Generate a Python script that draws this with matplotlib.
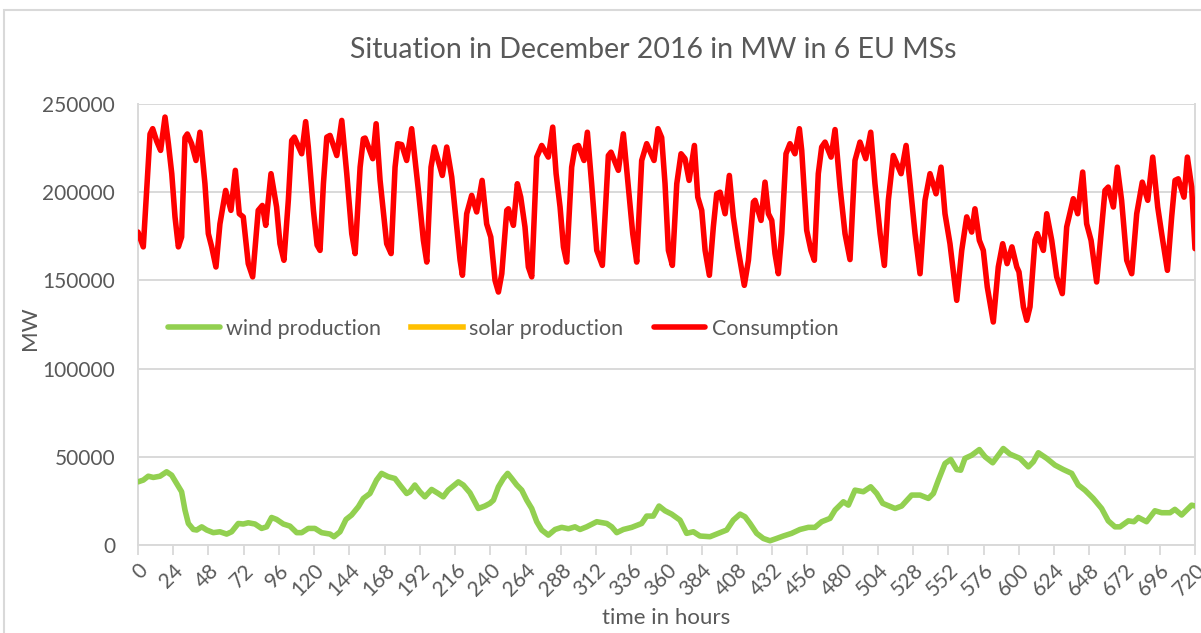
import matplotlib
matplotlib.use("Agg")
import matplotlib.pyplot as plt
from matplotlib.patches import Rectangle

plt.rcParams['font.family'] = ['Lato', 'DejaVu Sans']

title = "Situation in December 2016 in MW in 6 EU MSs"
x_label = "time in hours"
y_label = "MW"
series_names = ["wind production", "solar production", "Consumption"]
x_ticks = list(range(0, 721, 24))
y_ticks = [0, 50000, 100000, 150000, 200000, 250000]

cons_hours = [0, 3.6, 8.2, 10, 12.7, 15.4, 18.4, 20.7, 23, 25.2, 27.5, 29.7, 32, 33.6, 36.5, 39.5,
              42.2, 45.6, 47.9, 50.2, 53.1, 55.8, 59.7, 63.3, 66.3, 69, 71.7, 75.1, 78.1, 81.9,
              84.7, 87, 90.6, 94.4, 96.7, 99.4, 102.4, 104.7, 106.5, 111.5, 114.2, 116, 119.5,
              122, 124, 126.3, 128.6, 130.8, 135.4, 138.8, 142.2, 145.6, 147.9, 151.3, 153.5,
              154.7, 159.9, 162.2, 164.9, 169.4, 172.4, 175.1, 176.9, 179.6, 183, 186.4, 191,
              194.4, 196.7, 199.6, 201.9, 207.3, 210.3, 213.7, 217.1, 219.4, 221, 223.9, 227.3,
              230.7, 234.4, 237.5, 240.3, 243.2, 245.5, 247.8, 251.2, 252.3, 255.7, 258.4,
              260.7, 263.6, 265.9, 268.2, 271.6, 275, 279.5, 282.5, 284.8, 287.5, 289.8, 292,
              295.4, 297.7, 300, 303.8, 306.1, 309, 312.5, 316.3, 320.4, 322.2, 327.2, 330.6,
              334, 337, 339.7, 343.1, 346.5, 351.5, 354.2, 356.7, 359, 361.3, 364, 367, 369.9,
              372.6, 375.4, 379, 381.3, 384, 386.3, 389.2, 391.9, 394.2, 396.5, 399.9, 402.8,
              405.5, 408.5, 413, 415.8, 419.2, 420.3, 424.4, 427.1, 429.4, 431.7, 433.9, 436.2,
              438.5, 441.4, 444.1, 447.5, 450.5, 452.1, 455.5, 458.4, 460.7, 463.4, 465.7, 468,
              472.1, 474.8, 478.2, 481.6, 485, 488.4, 491.8, 495.7, 499.1, 502, 505.5, 508.4,
              511.1, 514.5, 519.8, 523.2, 525.9, 529.3, 532.7, 536.1, 539.5, 543.6, 547, 549.7,
              553.1, 557.7, 561.1, 564.5, 567.9, 570.1, 573.1, 575.8, 578.5, 582.6, 586, 589,
              592, 595.3, 598.6, 600.1, 603.1, 605.4, 607.6, 611, 612.6, 616.7, 619, 622.4,
              625.8, 629.6, 632.6, 637.1, 640.1, 643.5, 646.2, 649.2, 653, 656.4, 658.7, 660.9,
              664.4, 667.1, 670, 673.5, 676.9, 680.3, 684.1, 687.8, 691.2, 694.6, 697.3, 701.2,
              704.1, 706.4, 708.6, 712.5, 714.8, 717.7, 720]
cons_mw = [177400, 169000, 233000, 236000, 229000, 223700, 242600, 227500, 210500, 186000, 169000,
           174600, 231000, 233000, 227500, 218000, 234000, 204800, 176500, 169000, 157600, 182000,
           201000, 189700, 212400, 187800, 186000, 159500, 152000, 189700, 192500, 181200, 210500,
           191600, 170800, 161400, 195400, 229300, 231200, 221800, 240000, 225600, 189700, 170000,
           167000, 204800, 231200, 232200, 220800, 240700, 210500, 176500, 165200, 214200, 230300,
           230700, 219000, 238800, 206700, 170800, 165200, 214200, 227500, 227000, 218000, 236000,
           201000, 172700, 160400, 214200, 225600, 209500, 225600, 208600, 180300, 161400, 152900,
           187800, 198200, 188800, 206700, 182000, 174600, 150000, 143400, 153800, 189700, 190600,
           181200, 204800, 197200, 180300, 157600, 152000, 219900, 226500, 219900, 236900, 210500,
           191600, 169000, 160400, 214200, 225600, 226500, 218000, 234000, 204800, 167000, 158500,
           220800, 222700, 212400, 233100, 202900, 176500, 160400, 218000, 227500, 218000, 236000,
           231000, 204800, 167000, 158500, 204800, 221800, 219000, 206700, 226500, 197200, 189700,
           167000, 152900, 180300, 199100, 200000, 187800, 209500, 186000, 169000, 147200, 161400,
           194400, 195400, 184000, 205700, 187800, 184000, 165200, 153800, 176500, 221800, 227500,
           221800, 236000, 223700, 178400, 167000, 161400, 210500, 225600, 228400, 219900, 235500,
           203000, 176500, 161800, 218000, 228400, 219000, 234000, 204800, 176500, 158500, 195400,
           220800, 210500, 226500, 204800, 176500, 153800, 195400, 210500, 199100, 214200, 187800,
           170800, 138700, 167000, 186000, 177400, 190600, 172700, 167000, 146300, 126400, 157600,
           170800, 159500, 169000, 157600, 154800, 135000, 127400, 135000, 172700, 176500, 167000,
           187800, 172700, 152000, 142500, 180300, 196300, 187800, 211400, 182100, 172700, 149100,
           180300, 201000, 202900, 191600, 214200, 195400, 161400, 153800, 187800, 205700, 195400,
           219900, 191600, 176500, 155700, 186000, 206700, 207600, 197200, 219900, 203000, 168000]

wind_hours = [0, 3.6, 7, 10.4, 15, 19.5, 22.9, 26.3, 29.7, 32, 34.3, 37.7, 40, 43.4, 46.8, 51.3,
              55.8, 60.4, 63.8, 68.3, 71.7, 75.1, 79.7, 84.2, 87.6, 91, 94.4, 99, 103.5, 108.1,
              111.5, 116, 120.5, 125.1, 130.8, 133.5, 137.6, 141.7, 145.5, 150.1, 153.5, 158,
              162.5, 165.9, 170.5, 175, 178.4, 183, 185.2, 188.6, 192, 195.4, 200, 204.5, 207.9,
              211.3, 218.2, 221.6, 226.1, 231.8, 236.3, 239.7, 242.1, 245.5, 248.9, 251.8, 254.6,
              258, 261.4, 264.8, 268.2, 271.6, 275, 279.5, 284.1, 288.6, 293.2, 297.7, 301.1,
              305.6, 312.5, 319.3, 322.7, 326.1, 330.6, 336.3, 343.1, 346.5, 351, 354.9, 359,
              363.5, 369.2, 373.7, 378.3, 382.8, 389.6, 395.3, 401, 405.5, 410.1, 413.5, 416.9,
              421.4, 426, 430.5, 435, 439.6, 445.2, 450.9, 456.6, 461.1, 465.7, 471.4, 474.8,
              480.5, 483.9, 488.4, 494.1, 499.1, 503.2, 507.3, 515.7, 520.2, 527, 532.7, 538.4,
              541.8, 545.2, 549.7, 553.6, 557.7, 560.4, 563.3, 567.9, 573.1, 577, 582.2, 586,
              589.4, 594, 600.8, 606.5, 609.9, 613.3, 619, 624.6, 630.3, 636, 640.5, 645, 650.7,
              656.4, 660.9, 665.5, 668.9, 674.6, 678.4, 681.4, 687, 692.7, 697.3, 703, 706.3,
              710.9, 717.7, 720]
wind_mw = [35800, 36800, 39000, 38300, 39000, 41500, 39600, 34900, 30200, 19800, 12200, 8800, 8500,
           10300, 8500, 7000, 7500, 6200, 7500, 12200, 11900, 12600, 11900, 9400, 10300, 15600,
           14500, 11900, 10700, 7000, 7000, 9400, 9400, 7000, 6200, 4700, 7500, 14500, 17000, 21700,
           26400, 29200, 36800, 40600, 38700, 37700, 34000, 29200, 30200, 34000, 30200, 27300, 31500,
           29200, 27300, 31100, 35800, 34000, 29600, 20700, 22100, 23600, 25400, 33000, 37700, 40600,
           37700, 34000, 31100, 25400, 20700, 13200, 8500, 5600, 8800, 10000, 9200, 10300, 8800,
           10300, 13200, 12200, 10300, 7000, 8800, 10000, 12200, 16400, 16400, 22100, 19400, 17500,
           14100, 6600, 7500, 5100, 4700, 6600, 8500, 14100, 17500, 16000, 12200, 6600, 3700, 2400,
           3700, 5100, 6600, 8800, 10000, 10000, 13200, 15100, 19800, 24500, 22600, 31100, 30200,
           33000, 29200, 23600, 20700, 22100, 28300, 28300, 26400, 29200, 36800, 46200, 48500,
           42800, 42400, 49100, 50900, 54100, 50000, 46600, 50900, 54700, 51500, 49100, 44300,
           47200, 52300, 49100, 45300, 42800, 40600, 34000, 31100, 26400, 20700, 13700, 10300,
           10300, 13700, 13200, 15600, 13200, 19400, 18300, 18300, 20200, 17000, 22600, 22100]

solar_hours = []
solar_mw = []

W, H = 1201, 633
fig = plt.figure(figsize=(W / 100, H / 100), dpi=100)
fig.patch.set_facecolor('white')

left, right, top, bottom = 138, 1195, 104, 545
ax = fig.add_axes([left / W, 1 - bottom / H, (right - left) / W, (bottom - top) / H])

grid_c = '#D9D9D9'
text_c = '#595959'

ax.plot(wind_hours, wind_mw, color='#92D050', lw=4.0, solid_joinstyle='round',
        solid_capstyle='round', label=series_names[0], zorder=3)
ax.plot(solar_hours, solar_mw, color='#FFC000', lw=4.0, label=series_names[1], zorder=3)
ax.plot(cons_hours, cons_mw, color='#FF0000', lw=4.0, solid_joinstyle='round',
        solid_capstyle='round', label=series_names[2], zorder=4)

ax.set_xlim(0, 720)
ax.set_ylim(0, 250000)
ax.set_xticks(x_ticks)
ax.set_xticklabels([str(t) for t in x_ticks], rotation=45, ha='right',
                   rotation_mode='anchor', fontsize=15, color=text_c)
ax.set_yticks(y_ticks)
ax.set_yticklabels([str(t) for t in y_ticks], fontsize=15, color=text_c)
ax.tick_params(axis='y', length=0, pad=16.5)
ax.tick_params(axis='x', length=7, width=1.3, color=grid_c, direction='out', pad=4)
ax.grid(axis='y', color=grid_c, lw=1.4, zorder=0)
ax.set_axisbelow(True)
ax.spines['top'].set_visible(False)
for s in ['left', 'right', 'bottom']:
    ax.spines[s].set_color(grid_c)
    ax.spines[s].set_linewidth(1.4)

ax.set_xlabel(x_label, fontsize=16, color=text_c, labelpad=6)
fig.text(30 / W, 1 - 328 / H, y_label, rotation=90, ha='center', va='center',
         fontsize=16, color=text_c)

fig.text(653 / W, 1 - 50 / H, title, ha='center', va='center', fontsize=20.5, color=text_c)

leg = ax.legend(loc='center left', bbox_to_anchor=(0.01, 0.49), ncol=3, frameon=False,
                fontsize=15.5, handlelength=2.4, handletextpad=0.3, columnspacing=1.4,
                labelcolor=text_c)

fig.patches.append(Rectangle((4 / W, -0.1), 1.2, 1 - 10 / H + 0.1, transform=fig.transFigure,
                             fill=False, edgecolor=grid_c, lw=1.5, clip_on=False))

fig.savefig('out.png', dpi=100, facecolor='white')
